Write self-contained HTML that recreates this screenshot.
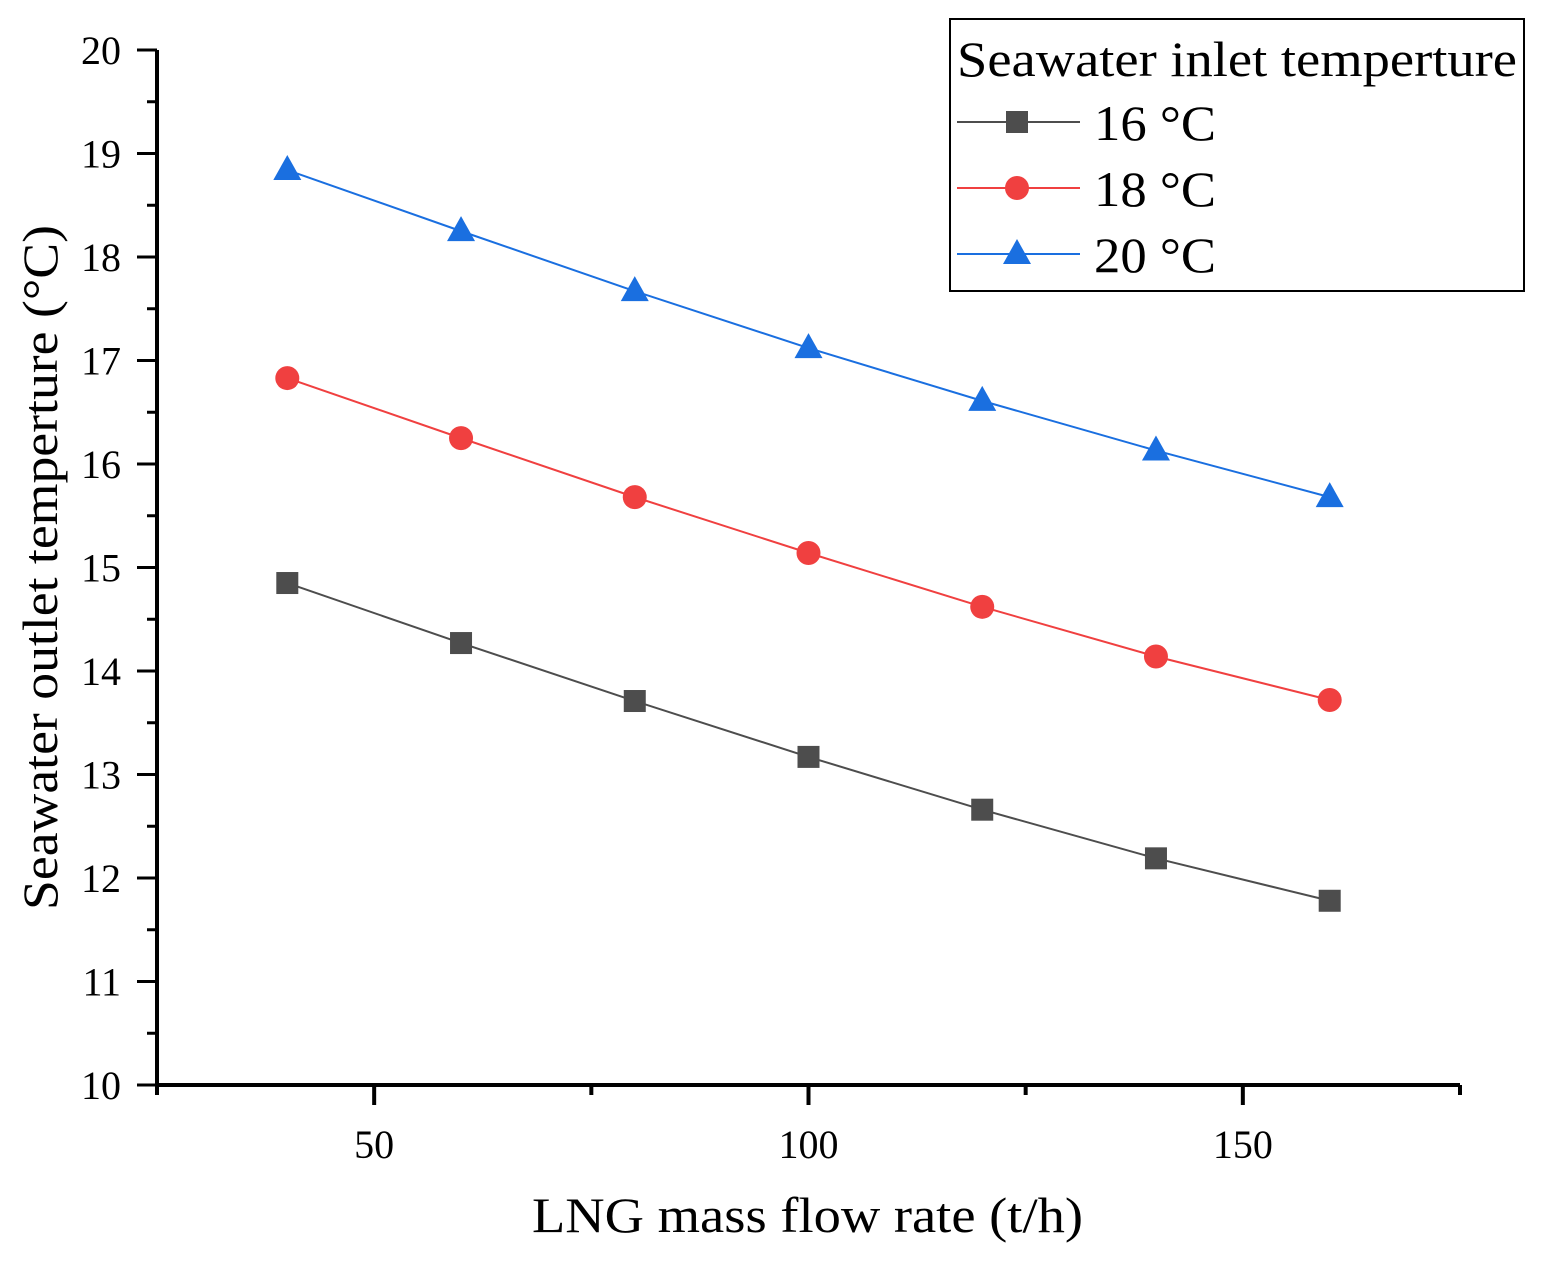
<!DOCTYPE html>
<html><head><meta charset="utf-8"><style>
body{margin:0;background:#fff}
svg text{font-family:"Liberation Serif","DejaVu Serif",serif;fill:#000}
</style></head><body>
<svg id="chart" width="1546" height="1260" xmlns="http://www.w3.org/2000/svg">
<g id="axes"></g>
<g id="series"></g>
<g id="legend">
<rect x="950" y="19" width="574" height="272" fill="#fff" stroke="#000" stroke-width="2"/>
<text x="957" y="76" font-size="50" textLength="560" lengthAdjust="spacingAndGlyphs">Seawater inlet temperture</text>
</g>
<text x="532" y="1232" font-size="50" textLength="551" lengthAdjust="spacingAndGlyphs">LNG mass flow rate (t/h)</text>
<text transform="translate(57,910) rotate(-90)" font-size="50" textLength="685" lengthAdjust="spacingAndGlyphs">Seawater outlet temperture (°C)</text>
</svg>
<script>
const xValues=[40,60,80,100,120,140,160];
const s16=[14.85,14.27,13.71,13.17,12.66,12.19,11.78];
const s18=[16.83,16.25,15.68,15.14,14.62,14.14,13.72];
const s20=[18.84,18.25,17.67,17.12,16.61,16.13,15.68];
const seriesLabels=["16 °C","18 °C","20 °C"];
const xTicks=[50,100,150];
const yTicks=[10,11,12,13,14,15,16,17,18,19,20];
const NS="http://www.w3.org/2000/svg";
const X0=157,X1=1460,Y0=1085,Y1=50,xmin=25,xmax=175,ymin=10,ymax=20;
function sx(v){return X0+(v-xmin)/(xmax-xmin)*(X1-X0);}
function sy(v){return Y0-(v-ymin)/(ymax-ymin)*(Y0-Y1);}
function mk(t,a,p){const e=document.createElementNS(NS,t);for(const k in a)e.setAttribute(k,a[k]);p.appendChild(e);return e;}
const ax=document.getElementById('axes');
let l=mk('line',{x1:X0,y1:Y1,x2:X0,y2:Y0+2,stroke:'#000','stroke-width':4},ax);


l=mk('line',{x1:X0-2,y1:Y0,x2:X1,y2:Y0,stroke:'#000','stroke-width':4},ax);


for(let v=25;v<=175;v+=25){
  const major=xTicks.includes(v);
  const t=mk('line',{x1:sx(v),y1:Y0,x2:sx(v),y2:Y0+(major?20:10),stroke:'#000','stroke-width':4},ax);
  
  
}
xTicks.forEach(v=>{
  const t=mk('text',{x:sx(v),y:Y0+73,'font-size':40,'text-anchor':'middle'},ax);t.textContent=v;
  
  
});
for(let v=10;v<=20;v+=0.5){
  const major=Math.abs(v-Math.round(v))<1e-9;
  const t=mk('line',{x1:X0,y1:sy(v),x2:X0-(major?20:10),y2:sy(v),stroke:'#000','stroke-width':3},ax);
  
  
}
yTicks.forEach(v=>{
  const t=mk('text',{x:121,y:sy(v)+14,'font-size':40,'text-anchor':'end'},ax);t.textContent=v;
  
  
});
const sg=document.getElementById('series'),lg=document.getElementById('legend');
const cols=['#4d4d4d','#f04040','#1a6fe0'],shapes=['square','circle','triangle'];
function marker(shape,x,y,c,p){
  let m;
  if(shape==='square')m=mk('rect',{x:x-11,y:y-11,width:22,height:22,fill:c},p);
  else if(shape==='circle')m=mk('circle',{cx:x,cy:y,r:12,fill:c},p);
  else m=mk('polygon',{points:`${x},${y-15} ${x+14},${y+10} ${x-14},${y+10}`,fill:c},p);
  return m;
}
[s16,s18,s20].forEach((data,i)=>{
  const g=mk('g',{},sg);
  
  
  const pl=mk('polyline',{points:data.map((v,j)=>sx(xValues[j])+','+sy(v)).join(' '),fill:'none',stroke:cols[i],'stroke-width':2},g);
  
  
  data.forEach((v,j)=>{
    const m=marker(shapes[i],sx(xValues[j]),sy(v),cols[i],g);
    
    
  });
  const ly=122+i*66;
  const le=mk('g',{},lg);
  
  
  mk('line',{x1:957,y1:ly,x2:1080,y2:ly,stroke:cols[i],'stroke-width':2},le);
  marker(shapes[i],1017,ly,cols[i],le);
  const t=mk('text',{x:1094,y:ly+18,'font-size':50,textLength:122,lengthAdjust:'spacingAndGlyphs'},le);t.textContent=seriesLabels[i];
});
</script>
</body></html>
